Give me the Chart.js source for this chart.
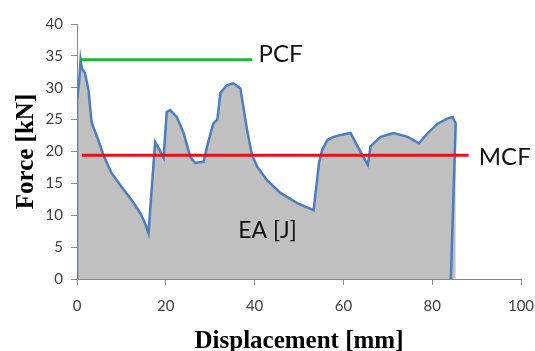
<!DOCTYPE html>
<html>
<head>
<meta charset="utf-8">
<script src="https://cdn.jsdelivr.net/npm/chart.js@4/dist/chart.umd.min.js"></script>
<style>
  body { margin: 0; background: #fff; }
  canvas { display: block; }
</style>
</head>
<body>
<canvas id="chart" width="535" height="351"></canvas>
<script>
// force-displacement curve
const displacement = [0, 0, 0.5, 0.8, 1.1, 1.8, 2.6, 3.3, 4.8, 5.9, 7.8, 10.1, 12.3, 14.2, 15.3, 16.1,
  17.6, 18.4, 19.5, 20.2, 21.0, 22.5, 24.0, 25.5, 26.6, 28.5, 29.3, 30.7, 31.6, 32.3, 33.8, 35.2,
  36.8, 38.3, 39.4, 40.6, 42.8, 45.8, 49.6, 53.3, 54.5, 55.2, 56.4, 57.8, 59.4, 61.6, 63.2, 65.5,
  66.1, 68.4, 71.3, 74.5, 77.0, 79.0, 81.3, 83.5, 84.6, 85.3, 84.2];
const force = [0, 28, 31, 34.4, 33, 32.3, 29.6, 24.5, 21.8, 19.5, 16.6, 14.4, 12.4, 10.4, 8.8, 7.2,
  21.5, 20.5, 19, 26.2, 26.5, 25.4, 22.9, 19.2, 18.2, 18.4, 20.8, 24.4, 25, 29.2, 30.4, 30.7,
  29.9, 23.4, 19.5, 17.6, 15.5, 13.5, 11.9, 10.8, 18.2, 20.2, 21.8, 22.3, 22.6, 22.9, 20.8, 17.9,
  20.8, 22.3, 22.9, 22.3, 21.3, 22.9, 24.4, 25.2, 25.4, 24.4, 0];

// peak crushing force and mean crushing force lines
const pcfX = [0.7, 39.5];
const pcfY = [34.4, 34.4];
const mcfX = [1.1, 88.2];
const mcfY = [19.4, 19.4];

// text notes inside the plot
const noteText = ["PCF", "MCF", "EA [J]"];
const noteX = [40.9, 90.5, 36.3];
const noteY = [35.2, 19.1, 7.6];

const toPoints = (xs, ys) => xs.map((x, i) => ({ x: x, y: ys[i] }));

// the filler needs x going one way, so the grey area stops before the last (leaning) point
const curvePoints = toPoints(displacement, force);
const areaPoints = curvePoints.slice(0, -1);

const notesPlugin = {
  id: "notes",
  afterDatasetsDraw(chart) {
    const ctx = chart.ctx;
    const xs = chart.scales.x;
    const ys = chart.scales.y;
    ctx.save();
    ctx.fillStyle = "#111";
    ctx.textAlign = "left";
    ctx.textBaseline = "middle";
    noteText.forEach((t, i) => {
      ctx.font = (i === 2 ? "23px" : "24px") + " Lato";
      ctx.fillText(t, xs.getPixelForValue(noteX[i]), ys.getPixelForValue(noteY[i]));
    });
    ctx.restore();
  },
};

const tickFont = { family: "Lato", size: 15 };

new Chart(document.getElementById("chart").getContext("2d"), {
  type: "scatter",
  data: {
    datasets: [
      {
        data: toPoints(pcfX, pcfY),
        showLine: true,
        borderColor: "#1fb53a",
        borderWidth: 3,
        pointRadius: 0,
        order: 1,
      },
      {
        data: toPoints(mcfX, mcfY),
        showLine: true,
        borderColor: "#e8101c",
        borderWidth: 3,
        pointRadius: 0,
        order: 1,
      },
      {
        data: curvePoints,
        showLine: true,
        borderColor: "#4a7ebf",
        borderWidth: 2.5,
        pointRadius: 0,
        tension: 0,
        order: 2,
      },
      {
        data: areaPoints,
        showLine: true,
        borderWidth: 0,
        borderColor: "rgba(0,0,0,0)",
        backgroundColor: "#c0c0c0",
        fill: "origin",
        pointRadius: 0,
        tension: 0,
        order: 3,
      },
    ],
  },
  options: {
    responsive: false,
    animation: false,
    layout: { padding: { left: 0, top: 24, right: 14, bottom: 0 } },
    plugins: { legend: { display: false }, tooltip: { enabled: false } },
    scales: {
      x: {
        type: "linear",
        min: 0,
        max: 100,
        ticks: { stepSize: 20, color: "#404040", font: tickFont, padding: 12 },
        grid: { drawOnChartArea: false, tickLength: 6, color: "#888" },
        border: { color: "#888" },
        title: {
          display: true,
          text: "Displacement [mm]",
          color: "#000",
          font: { family: "Liberation Serif", size: 25, weight: "bold", lineHeight: 0.6 },
          padding: { top: 0, bottom: 2 },
        },
        afterFit: (scale) => {
          scale.height = 72;
          scale.paddingLeft = 0;
          scale.paddingRight = 0;
        },
      },
      y: {
        min: 0,
        max: 40,
        ticks: { stepSize: 5, color: "#404040", font: tickFont, padding: 8 },
        grid: { drawOnChartArea: false, tickLength: 6, color: "#888" },
        border: { color: "#888" },
        title: {
          display: true,
          text: "Force [kN]",
          color: "#000",
          font: { family: "Liberation Serif", size: 25, weight: "bold", lineHeight: 1 },
          padding: { top: 14, bottom: 0 },
        },
        afterFit: (scale) => { scale.width = 77; },
      },
    },
  },
  plugins: [notesPlugin],
});
</script>
</body>
</html>
